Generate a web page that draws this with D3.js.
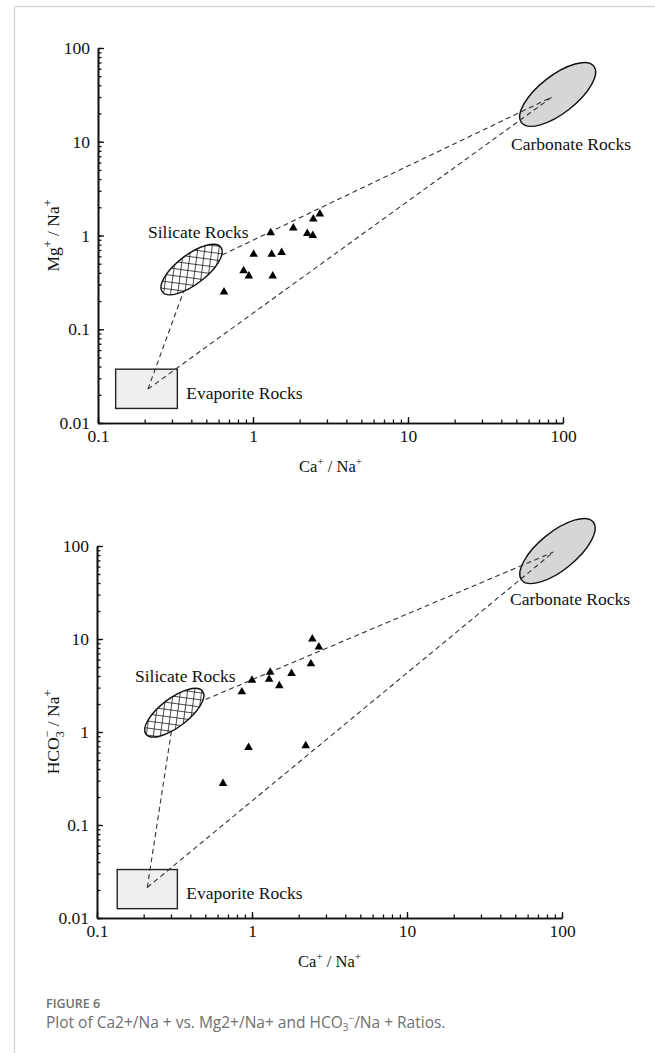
<!DOCTYPE html>
<html>
<head>
<meta charset="utf-8">
<script src="https://d3js.org/d3.v7.min.js"></script>
<style>
  body { margin: 0; background: #fff; }
  svg text { font-family: "Liberation Serif", "Times New Roman", serif; fill: #111; }
  svg text.cap { font-family: "Open Sans", "Noto Sans", sans-serif; fill: #6f6f6f; }
</style>
</head>
<body>
<svg id="fig" width="655" height="1053"></svg>
<script>

// ---- data ----
var xTickLabels = ["0.1", "1", "10", "100"];
var yTickLabels = ["0.01", "0.1", "1", "10", "100"];

// upper panel : Ca/Na vs Mg/Na
var caTop  = [0.65, 0.87, 0.94, 1.01, 1.32, 1.53, 1.34, 1.30, 1.82, 2.24, 2.43, 2.45, 2.70];
var mgTop  = [0.25, 0.42, 0.37, 0.63, 0.63, 0.66, 0.37, 1.07, 1.20, 1.05, 1.00, 1.50, 1.70];

// lower panel : Ca/Na vs HCO3/Na
var caBot   = [0.65, 0.95, 2.22, 0.86, 1.00, 1.31, 1.29, 1.50, 1.80, 2.40, 2.45, 2.70];
var hco3Bot = [0.28, 0.68, 0.71, 2.70, 3.60, 4.40, 3.70, 3.15, 4.25, 5.40, 10.0, 8.20];

// end members (major axis ends of the ellipses, box corners, end points)
var silicateTop  = [[0.26, 0.25], [0.62, 0.75]];
var carbonateTop = [[54, 16], [158, 64]];
var carbPointTop = [85, 30];
var evapBoxTop   = [[0.13, 0.0143], [0.325, 0.0375]];
var evapPointTop = [0.21, 0.023];

var silicateBot  = [[0.207, 0.945], [0.48, 2.75]];
var carbonateBot = [[55, 43], [159, 181]];
var carbPointBot = [88, 86];
var evapBoxBot   = [[0.135, 0.0126], [0.33, 0.0332]];
var evapPointBot = [0.211, 0.0213];

var svg = d3.select("#fig");

// frame lines of the page
svg.append("line").attr("x1", 14.5).attr("x2", 655).attr("y1", 6.5).attr("y2", 6.5)
   .attr("stroke", "#d9d9d9").attr("stroke-width", 1.5);
svg.append("line").attr("x1", 14.5).attr("x2", 14.5).attr("y1", 6.5).attr("y2", 1053)
   .attr("stroke", "#d9d9d9").attr("stroke-width", 1.5);

// crosshatch for silicate field
var defs = svg.append("defs");
var pat = defs.append("pattern").attr("id", "hatch")
    .attr("patternUnits", "userSpaceOnUse")
    .attr("width", 7).attr("height", 7)
    .attr("patternTransform", "rotate(45)");
pat.append("rect").attr("width", 7).attr("height", 7).attr("fill", "#fff");
pat.append("line").attr("x1", 0).attr("y1", 0).attr("x2", 7).attr("y2", 0)
   .attr("stroke", "#111").attr("stroke-width", 1.5);
pat.append("line").attr("x1", 0).attr("y1", 0).attr("x2", 0).attr("y2", 7)
   .attr("stroke", "#111").attr("stroke-width", 1.5);

function ellipse(g, x, y, ends, ratio, fill) {
  var p1 = [x(ends[0][0]), y(ends[0][1])];
  var p2 = [x(ends[1][0]), y(ends[1][1])];
  var cx = (p1[0] + p2[0]) / 2, cy = (p1[1] + p2[1]) / 2;
  var a = Math.hypot(p2[0] - p1[0], p2[1] - p1[1]) / 2;
  var ang = Math.atan2(p2[1] - p1[1], p2[0] - p1[0]) * 180 / Math.PI;
  g.append("ellipse")
    .attr("cx", cx).attr("cy", cy)
    .attr("rx", a).attr("ry", a * ratio)
    .attr("transform", "rotate(" + ang + "," + cx + "," + cy + ")")
    .attr("fill", fill)
    .attr("stroke", "#111")
    .attr("stroke-width", 1.4);
  return [cx, cy];
}

function panel(p) {
  var x = d3.scaleLog().domain([0.1, 100]).range([p.x0, p.x1]);
  var y = d3.scaleLog().domain([0.01, 100]).range([p.y0, p.y1]);
  var g = svg.append("g");

  // evaporite box
  g.append("rect")
    .attr("x", x(p.evapBox[0][0]))
    .attr("y", y(p.evapBox[1][1]))
    .attr("width", x(p.evapBox[1][0]) - x(p.evapBox[0][0]))
    .attr("height", y(p.evapBox[0][1]) - y(p.evapBox[1][1]))
    .attr("fill", "#efefef").attr("stroke", "#222").attr("stroke-width", 1.4);

  // carbonate ellipse
  ellipse(g, x, y, p.carbonate, 0.41, "#d6d6d6");

  // mixing lines
  var sil = [Math.sqrt(p.silicate[0][0] * p.silicate[1][0]), Math.sqrt(p.silicate[0][1] * p.silicate[1][1])];
  var ends = [[p.evapPoint, sil], [p.evapPoint, p.carbPoint], [sil, p.carbPoint]];
  g.selectAll(".mix").data(ends).enter().append("line")
    .attr("class", "mix")
    .attr("x1", function(d) { return x(d[0][0]); })
    .attr("y1", function(d) { return y(d[0][1]); })
    .attr("x2", function(d) { return x(d[1][0]); })
    .attr("y2", function(d) { return y(d[1][1]); })
    .attr("stroke", "#333").attr("stroke-width", 1.1)
    .attr("stroke-dasharray", "5,3.5");

  // silicate ellipse
  ellipse(g, x, y, p.silicate, 0.4, "url(#hatch)");

  // samples
  var tri = d3.symbol().type(d3.symbolTriangle).size(32);
  g.selectAll(".pt").data(p.xs).enter().append("path")
    .attr("class", "pt")
    .attr("d", tri)
    .attr("transform", function(d, i) { return "translate(" + x(d) + "," + y(p.ys[i]) + ")"; })
    .attr("fill", "#000");

  // field labels
  g.append("text").attr("x", p.silLabel[0]).attr("y", p.silLabel[1])
    .attr("font-size", 17.5).text("Silicate Rocks");
  g.append("text").attr("x", p.carbLabel[0]).attr("y", p.carbLabel[1])
    .attr("font-size", 17.5).text("Carbonate Rocks");
  g.append("text").attr("x", x(p.evapBox[1][0]) + 9).attr("y", p.evapLabelY)
    .attr("font-size", 17.5).text("Evaporite Rocks");

  // axes : minor ticks then major ticks with labels
  var xMinor = d3.axisBottom(x).tickValues(x.ticks()).tickSize(-3.5).tickSizeOuter(0).tickFormat("");
  var yMinor = d3.axisLeft(y).tickValues(y.ticks()).tickSize(-3.5).tickSizeOuter(0).tickFormat("");
  var xMajor = d3.axisBottom(x).tickValues(xTickLabels.map(Number)).tickSize(-6).tickSizeOuter(0)
    .tickPadding(7).tickFormat(function(d, i) { return xTickLabels[i]; });
  var yMajor = d3.axisLeft(y).tickValues(yTickLabels.map(Number)).tickSize(-6).tickSizeOuter(0)
    .tickPadding(8).tickFormat(function(d, i) { return yTickLabels[i]; });

  [xMinor, xMajor].forEach(function(ax) {
    g.append("g").attr("transform", "translate(0," + p.y0 + ")").call(ax);
  });
  [yMinor, yMajor].forEach(function(ax) {
    g.append("g").attr("transform", "translate(" + p.x0 + ",0)").call(ax);
  });
  g.selectAll(".domain").attr("stroke", "#111").attr("stroke-width", 1.6);
  g.selectAll(".tick line").attr("stroke", "#111").attr("stroke-width", 1.3);
  g.selectAll(".tick text").attr("font-size", 17.5)
    .attr("font-family", "Liberation Serif, Times New Roman, serif").attr("fill", "#111");

  // axis titles
  var xt = g.append("text").attr("x", (p.x0 + p.x1) / 2).attr("y", p.y0 + 49)
    .attr("text-anchor", "middle").attr("font-size", 16.5);
  xt.append("tspan").text("Ca");
  xt.append("tspan").attr("dy", -7).attr("font-size", 11).text("+");
  xt.append("tspan").attr("dy", 7).text(" / Na");
  xt.append("tspan").attr("dy", -7).attr("font-size", 11).text("+");

  var yt = g.append("text")
    .attr("transform", "translate(59," + (p.y0 + p.y1) / 2 + ") rotate(-90)")
    .attr("text-anchor", "middle").attr("font-size", 17.5);
  p.yTitle(yt);
}

panel({
  x0: 98, x1: 563, y0: 423, y1: 48,
  xs: caTop, ys: mgTop,
  silicate: silicateTop, carbonate: carbonateTop, carbPoint: carbPointTop,
  evapBox: evapBoxTop, evapPoint: evapPointTop,
  silLabel: [148, 238], carbLabel: [511, 150], evapLabelY: 399,
  yTitle: function(t) {
    t.append("tspan").text("Mg");
    t.append("tspan").attr("dy", -7).attr("font-size", 12).text("+");
    t.append("tspan").attr("dy", 7).text(" / Na");
    t.append("tspan").attr("dy", -7).attr("font-size", 12).text("+");
  }
});

panel({
  x0: 97, x1: 562, y0: 918, y1: 546,
  xs: caBot, ys: hco3Bot,
  silicate: silicateBot, carbonate: carbonateBot, carbPoint: carbPointBot,
  evapBox: evapBoxBot, evapPoint: evapPointBot,
  silLabel: [135, 682], carbLabel: [510, 605], evapLabelY: 899,
  yTitle: function(t) {
    t.append("tspan").text("HCO");
    t.append("tspan").attr("dy", 5).attr("font-size", 12).text("3");
    t.append("tspan").attr("dx", -6).attr("dy", -13).attr("font-size", 12).text("\u2212");
    t.append("tspan").attr("dy", 8).text(" / Na");
    t.append("tspan").attr("dy", -7).attr("font-size", 12).text("+");
  }
});

// caption
svg.append("text").attr("class", "cap").attr("x", 46).attr("y", 1008)
  .attr("font-size", 12.5).attr("font-weight", 600).text("FIGURE 6");
var cap = svg.append("text").attr("class", "cap").attr("x", 46).attr("y", 1028).attr("font-size", 15.5);
cap.append("tspan").text("Plot of Ca2+/Na + vs. Mg2+/Na+ and HCO");
cap.append("tspan").attr("dy", 3).attr("font-size", 10).text("3");
cap.append("tspan").attr("dy", -9).attr("font-size", 10).text("\u2212");
cap.append("tspan").attr("dy", 6).text("/Na + Ratios.");

</script>
</body>
</html>
